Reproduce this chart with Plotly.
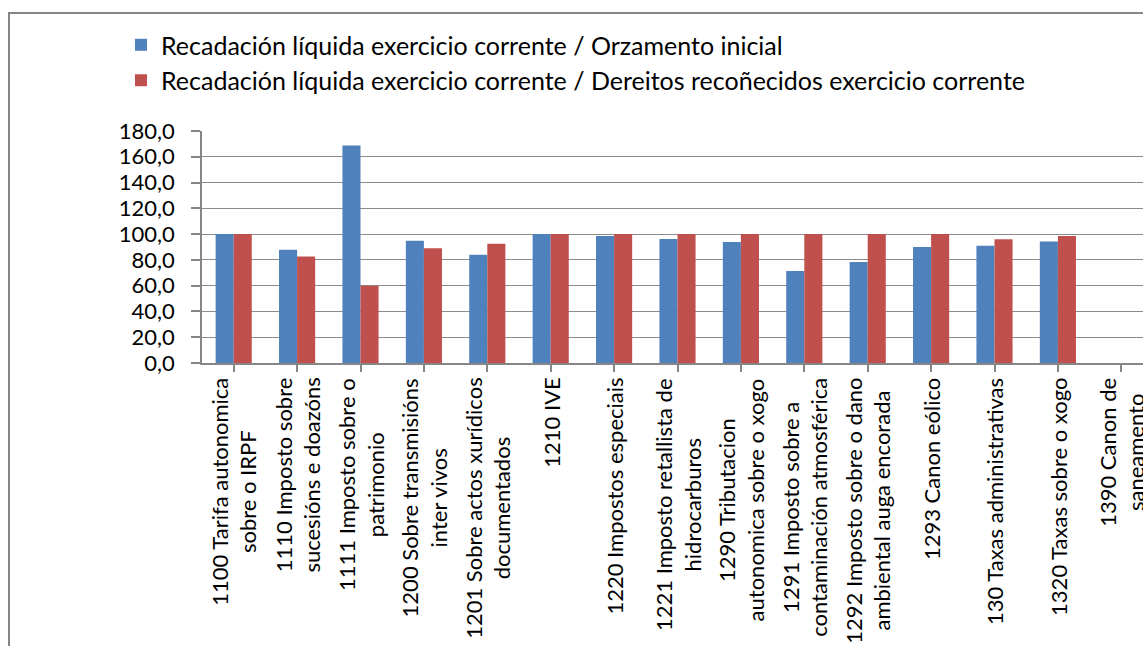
import plotly.graph_objects as go

categories = [
    "1100 Tarifa autonomica<br>sobre o IRPF",
    "1110 Imposto sobre<br>sucesións e doazóns",
    "1111 Imposto sobre o<br>patrimonio",
    "1200 Sobre transmisións<br>inter vivos",
    "1201 Sobre actos xurídicos<br>documentados",
    "1210 IVE",
    "1220 Impostos especiais",
    "1221 Imposto retallista de<br>hidrocarburos",
    "1290 Tributacion<br>autonomica sobre o xogo",
    "1291 Imposto sobre a<br>contaminación atmosférica",
    "1292 Imposto sobre o dano<br>ambiental auga encorada",
    "1293 Canon eólico",
    "130 Taxas administrativas",
    "1320 Taxas sobre o xogo",
    "1390 Canon de<br>saneamento",
]
series_names = [
    "Recadación líquida exercicio corrente / Orzamento inicial",
    "Recadación líquida exercicio corrente / Dereitos recoñecidos exercicio corrente",
]
orzamento = [100.0, 87.9, 168.8, 94.9, 84.0, 100.0, 98.6, 96.2, 93.9, 71.3, 78.3, 90.0, 91.0, 94.2, None]
dereitos = [100.0, 82.7, 59.9, 89.0, 92.6, 100.0, 100.0, 100.0, 100.0, 100.0, 100.0, 100.0, 96.0, 98.6, None]
y_ticks = [0, 20, 40, 60, 80, 100, 120, 140, 160, 180]

W, H = 1143, 646
L, T, B = 202, 131, 283
FONT = "Lato"
x_idx = list(range(len(categories)))
plot_w = W - L
plot_h = H - T - B

fig = go.Figure()
fig.add_trace(go.Bar(x=x_idx, y=orzamento, name=series_names[0],
                     marker=dict(color="#4F81BD", line=dict(width=0))))
fig.add_trace(go.Bar(x=x_idx, y=dereitos, name=series_names[1],
                     marker=dict(color="#C0504D", line=dict(width=0))))

for i, c in enumerate(categories):
    fig.add_annotation(x=i, xref="x", y=-13 / plot_h, yref="paper",
                       text=c, textangle=-90, showarrow=False,
                       xanchor="center", yanchor="top", align="center",
                       font=dict(family=FONT, size=22, color="black"))

# outer chart border
fig.add_shape(type="rect", xref="paper", yref="paper",
              x0=(9 - L) / plot_w, x1=1.2, y0=-2, y1=(H - B - 13) / plot_h,
              line=dict(color="#868686", width=2), fillcolor="rgba(0,0,0,0)", layer="below")

fig.update_layout(
    width=W, height=H,
    margin=dict(l=L, r=0, t=T, b=B, pad=0, autoexpand=False),
    paper_bgcolor="white", plot_bgcolor="white",
    separators=",.",
    barmode="group", bargap=0.43, bargroupgap=0,
    font=dict(family=FONT, size=22, color="black"),
    showlegend=True,
    legend=dict(xref="container", yref="container", x=121 / W, y=1 - 22 / H,
                xanchor="left", yanchor="top", orientation="v",
                font=dict(family=FONT, size=25, color="black"),
                bgcolor="rgba(0,0,0,0)", tracegroupgap=0, traceorder="normal"),
    xaxis=dict(range=[-0.5, -0.5 + plot_w / 63.4], tickmode="array", tickvals=x_idx,
               showticklabels=False, ticks="outside", ticklen=7, tickcolor="#868686",
               tickwidth=1.5, tickson="boundaries", showgrid=False,
               showline=True, linecolor="#868686", linewidth=1.5, zeroline=False),
    yaxis=dict(range=[0, 180], tickmode="array", tickvals=y_ticks, tickformat=".1f",
               ticks="outside", ticklen=9, tickcolor="#868686", tickwidth=1.5,
               ticklabelstandoff=12,
               showgrid=True, gridcolor="#8c8c8c", gridwidth=1.3,
               showline=True, linecolor="#868686", linewidth=1.5, zeroline=False,
               tickfont=dict(family=FONT, size=22, color="black")),
)

fig.write_html("out.html", config={"displayModeBar": False},
               post_script="document.body.style.margin='0';document.body.style.overflow='hidden';")
